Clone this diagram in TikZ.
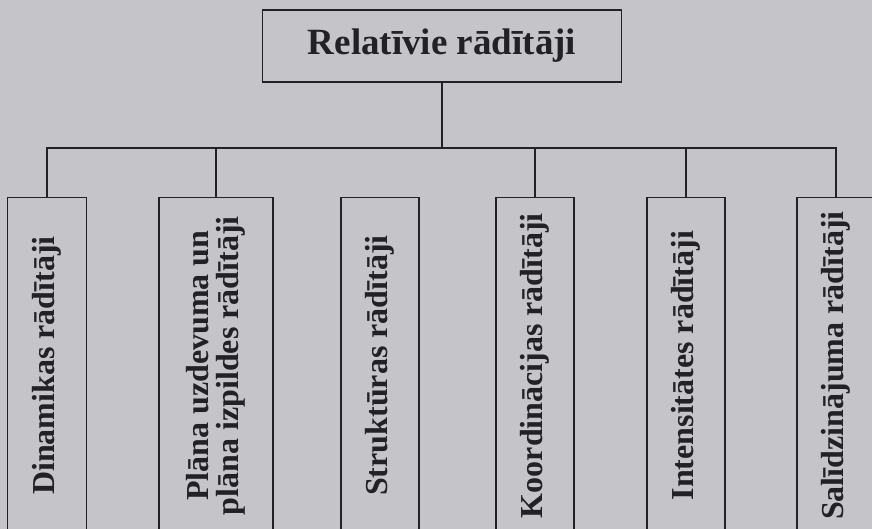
\documentclass[tikz,border=0pt]{standalone}
\usepackage{fontspec}
\setmainfont{Liberation Serif}
\definecolor{paper}{RGB}{197,197,201}
\definecolor{ink}{RGB}{34,34,38}
\begin{document}
\begin{tikzpicture}[x=1pt,y=-1pt,line width=1.3pt,color=ink,
  head/.style={draw,minimum width=359pt,minimum height=72pt,inner sep=0pt,
    font=\bfseries\fontsize{37}{40}\selectfont},
  kind/.style={draw,rotate=90,anchor=east,minimum width=336pt,minimum height=#1,
    inner sep=0pt,align=center,font=\bfseries\fontsize{32}{30}\selectfont}]
\useasboundingbox (0,0) rectangle (872,529);
\fill[paper] (0,0) rectangle (872,529);
\clip (0,0) rectangle (872,529);
% title
\node [head] (rel) at (442,46) {Relatīvie rādītāji};
% kinds of indicators
\node [kind=79pt]  (dyn)    at (47,197)  {Dinamikas rādītāji};
\node [kind=114pt] (plan)   at (216,197) {Plāna uzdevuma un\\plāna izpildes rādītāji};
\node [kind=78pt]  (struct) at (380,197) {Struktūras rādītāji};
\node [kind=78pt]  (coord)  at (535,197) {Koordinācijas rādītāji};
\node [kind=78pt]  (ints)   at (686,197) {Intensitātes rādītāji};
\node [kind=78pt]  (cmp)    at (836,197) {Salīdzinājuma rādītāji};
% connectors
\coordinate (bus) at (442,148);
\draw (rel.south) -- (bus);
\draw (dyn.east) |- (bus) -| (cmp.east);
\foreach \n in {plan,coord,ints}
  \draw (\n.east) -- (\n.east |- bus);
\end{tikzpicture}
\end{document}
